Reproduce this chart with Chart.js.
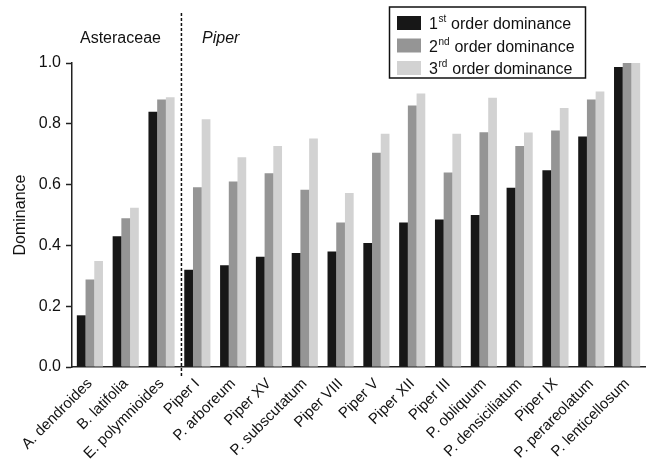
<!DOCTYPE html>
<html>
<head>
<meta charset="utf-8">
<script src="https://cdn.jsdelivr.net/npm/chart.js@4/dist/chart.umd.min.js"></script>
<style>
  html, body { margin: 0; padding: 0; background: #fff; }
  #wrap { width: 649px; height: 469px; }
</style>
</head>
<body>
<div id="wrap"><canvas id="chart" width="649" height="469"></canvas></div>
<script>
// species, in plot order
const species = ['A. dendroides', 'B. latifolia', 'E. polymnioides', 'Piper I', 'P. arboreum', 'Piper XV',
  'P. subscutatum', 'Piper VIII', 'Piper V', 'Piper XII', 'Piper III', 'P. obliquum', 'P. densiciliatum',
  'Piper IX', 'P. perareolatum', 'P. lenticellosum'];

const firstOrder  = [0.17, 0.43, 0.84, 0.32, 0.335, 0.363, 0.375, 0.38, 0.408, 0.475, 0.485, 0.50, 0.59, 0.647, 0.758, 0.987];
const secondOrder = [0.288, 0.489, 0.88, 0.591, 0.61, 0.637, 0.583, 0.475, 0.705, 0.86, 0.64, 0.772, 0.727, 0.778, 0.88, 1.0];
const thirdOrder  = [0.349, 0.524, 0.887, 0.815, 0.69, 0.727, 0.752, 0.572, 0.767, 0.90, 0.767, 0.886, 0.771, 0.852, 0.906, 1.0];

const yTicks = [0, 0.2, 0.4, 0.6, 0.8, 1.0];
const legendLabels = [['1', 'st'], ['2', 'nd'], ['3', 'rd']];
const groups = ['Asteraceae', 'Piper'];

const colors = ['#171717', '#959595', '#d2d2d2'];
const FONT = '"Liberation Sans", Arial, Helvetica, sans-serif';

// dashed separator, group names and legend box
const extras = {
  id: 'extras',
  afterDraw(chart) {
    const { ctx, scales: { x } } = chart;
    const sepX = (x.getPixelForValue(2) + x.getPixelForValue(3)) / 2 + 2;
    ctx.save();
    ctx.strokeStyle = '#111';
    ctx.lineWidth = 1.5;
    ctx.setLineDash([3, 2]);
    ctx.beginPath();
    ctx.moveTo(sepX, 13);
    ctx.lineTo(sepX, 378);
    ctx.stroke();
    ctx.setLineDash([]);

    ctx.fillStyle = '#111';
    ctx.textBaseline = 'alphabetic';
    ctx.font = '16px ' + FONT;
    ctx.fillText(groups[0], 80, 43);
    ctx.font = 'italic 16px ' + FONT;
    ctx.fillText(groups[1], 202, 43);

    // legend
    ctx.lineWidth = 1.5;
    ctx.strokeStyle = '#111';
    ctx.strokeRect(389.5, 7, 196, 71);
    legendLabels.forEach((lab, i) => {
      const cy = 23 + i * 22.5;
      ctx.fillStyle = colors[i];
      ctx.fillRect(397, cy - 7, 24, 14);
      ctx.fillStyle = '#111';
      ctx.font = '16px ' + FONT;
      let tx = 429;
      ctx.fillText(lab[0], tx, cy + 6);
      tx += ctx.measureText(lab[0]).width;
      ctx.font = '10px ' + FONT;
      ctx.fillText(lab[1], tx + 0.5, cy - 1);
      tx += ctx.measureText(lab[1]).width + 1;
      ctx.font = '16px ' + FONT;
      ctx.fillText(' order dominance', tx, cy + 6);
    });
    ctx.restore();
  }
};

new Chart(document.getElementById('chart'), {
  type: 'bar',
  data: {
    labels: species,
    datasets: [
      { label: '1st order dominance', data: firstOrder, backgroundColor: colors[0] },
      { label: '2nd order dominance', data: secondOrder, backgroundColor: colors[1] },
      { label: '3rd order dominance', data: thirdOrder, backgroundColor: colors[2] }
    ]
  },
  options: {
    responsive: false,
    animation: false,
    layout: { padding: { top: 63, right: 4, left: 0, bottom: 0 } },
    datasets: { bar: { categoryPercentage: 0.73, barPercentage: 1.0 } },
    plugins: { legend: { display: false }, tooltip: { enabled: false } },
    scales: {
      x: {
        grid: { display: false, drawTicks: false },
        border: { color: '#222', width: 1.5 },
        ticks: {
          color: '#111', font: { family: FONT, size: 15 },
          maxRotation: 45, minRotation: 45, autoSkip: false, padding: 8
        },
        afterFit(scale) { scale.height = 102; }
      },
      y: {
        min: 0, max: 1,
        afterBuildTicks(scale) { scale.ticks = yTicks.map(v => ({ value: v })); },
        grid: { drawOnChartArea: false, tickLength: 6, color: '#222', tickWidth: 1.5 },
        border: { color: '#222', width: 1.5 },
        ticks: {
          color: '#111', font: { family: FONT, size: 16 }, padding: 5,
          callback: v => v.toFixed(1)
        },
        title: { display: true, text: 'Dominance', color: '#111', font: { family: FONT, size: 16 }, padding: { top: 11, bottom: 0 } },
        afterFit(scale) { scale.width = 72; }
      }
    }
  },
  plugins: [extras]
});
</script>
</body>
</html>
